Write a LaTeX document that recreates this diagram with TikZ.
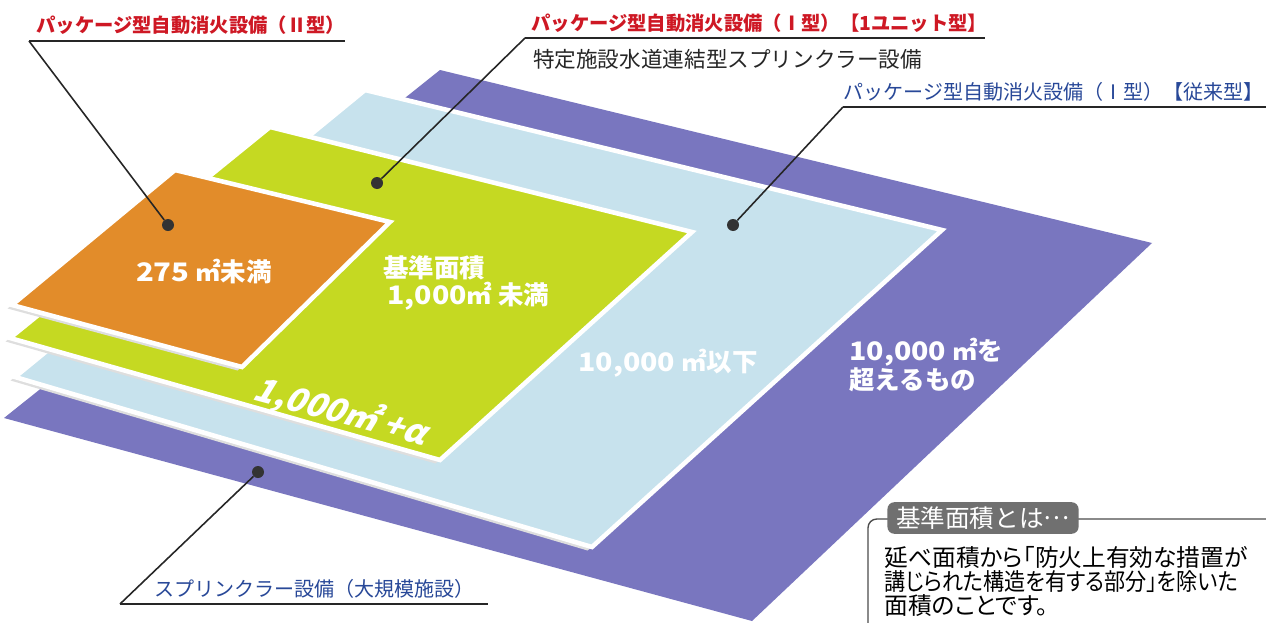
\documentclass[tikz,border=0pt]{standalone}
\usepackage{fontspec}
\setmainfont{Noto Sans CJK JP}
\newfontfamily\jpprop{Noto Sans CJK JP}[RawFeature=+palt]
\usetikzlibrary{positioning}
\definecolor{lblred}{RGB}{206,24,36}
\definecolor{lblblue}{RGB}{40,72,152}
\definecolor{lyrpurple}{RGB}{121,118,191}
\definecolor{lyrblue}{RGB}{199,226,237}
\definecolor{lyrgreen}{RGB}{197,217,34}
\definecolor{lyrorange}{RGB}{226,140,42}
\definecolor{taggray}{RGB}{112,112,112}

\begin{document}
\begin{tikzpicture}[x=0.02cm,y=-0.02cm,
  layer/.style={draw=white,line width=2.6pt,line join=miter},
  shade/.style={fill=black!13,xshift=-2.5pt,yshift=-2pt},
  dot/.style={circle,fill=black!80,inner sep=0pt,minimum size=0.24cm},
  leader/.style={line width=0.9pt,black!85},
  uline/.style={line width=1pt,black!85},
  ontext/.style={text=white,font=\bfseries\fontsize{14.5}{17}\selectfont,align=left,inner sep=0pt},
  redlbl/.style={text=lblred,font=\bfseries\fontsize{11}{13}\selectfont,inner sep=0pt},
  bluelbl/.style={text=lblblue,font=\fontsize{11.4}{13}\selectfont,inner sep=0pt}]
\useasboundingbox (0,0) rectangle (1266,622);
\clip (0,0) rectangle (1266,622);
\fill[white] (0,0) rectangle (1266,622);

% layers, largest first
\fill[lyrpurple] (440,70) -- (1152,243) -- (752,621) -- (4,418) -- cycle;
\fill[shade] (365,90) -- (942,230) -- (592,547) -- (15,377) -- cycle;
\filldraw[layer,fill=lyrblue] (365,90) -- (942,230) -- (592,547) -- (15,377) -- cycle;
\fill[shade] (270,127) -- (692,232) -- (440,460) -- (10,338) -- cycle;
\filldraw[layer,fill=lyrgreen] (270,127) -- (692,232) -- (440,460) -- (10,338) -- cycle;
\fill[shade] (175,170) -- (390,222) -- (242,367) -- (12,305) -- cycle;
\filldraw[layer,fill=lyrorange] (175,170) -- (390,222) -- (242,367) -- (12,305) -- cycle;

% texts on the layers
\node[ontext] (a275) at (204,272) {\scalebox{1.15}[1]{275} ㎡未満};
\node[ontext,anchor=west] (kijun) at (383,268) {基準面積};
\node[ontext,anchor=west] (k1000) at (387,296) {\scalebox{1.12}[1]{1,000}㎡ 未満};
\node[ontext,rotate=-15,xslant=0.3,font=\bfseries\fontsize{19}{21}\selectfont] (kplus) at (343,413) {1,000㎡ +α};
\node[ontext] (a10000) at (668,363) {\scalebox{1.12}[1]{10,000} ㎡以下};
\node[ontext,anchor=west] (over) at (849,365) {\scalebox{1.12}[1]{10,000} ㎡を\\超えるもの};

% dots
\node[dot] (dotII) at (168,225) {};
\node[dot] (dotunit) at (377,183) {};
\node[dot] (dotconv) at (733,225) {};
\node[dot] (dotsp) at (258,472) {};

% labels with underlines and leaders
\node[redlbl,anchor=west] (lblII) at (36,25) {パッケージ型自動消火設備（Ⅱ型）};
\coordinate (u1a) at (29,41); \coordinate (u1b) at (345,41);
\draw[uline] (u1a) -- (u1b);
\draw[leader] (dotII) -- (u1a);

\node[redlbl,anchor=west] (lblunit) at (531,23) {パッケージ型自動消火設備（Ⅰ型）【1ユニット型】};
\node[font=\fontsize{12.3}{14}\selectfont,text=black!85,inner sep=0pt,below right=9pt and 1pt of lblunit.south west] (lblsub) {特定施設水道連結型スプリンクラー設備};
\coordinate (u2a) at (525,38); \coordinate (u2b) at (985,38);
\draw[uline] (u2a) -- (u2b);
\draw[leader] (dotunit) -- (u2a);

\node[bluelbl,anchor=east] (lblconv) at (1264,92) {パッケージ型自動消火設備（Ⅰ型）【従来型】};
\coordinate (u3a) at (843,107); \coordinate (u3b) at (1266,107);
\draw[uline] (u3a) -- (u3b);
\draw[leader] (dotconv) -- (u3a);

\node[bluelbl,anchor=west] (lblsp) at (154,589) {スプリンクラー設備（大規模施設）};
\coordinate (u4a) at (120,604); \coordinate (u4b) at (488,604);
\draw[uline] (u4a) -- (u4b);
\draw[leader] (dotsp) -- (u4a);

% note box
\draw[line width=0.8pt,black!70,rounded corners=5pt] (1270,519) -- (868,519) -- (868,640);
\node[fill=taggray,text=white,rounded corners=4pt,inner xsep=5pt,inner ysep=2.5pt,font=\fontsize{14}{15}\selectfont] (tagk) at (983,518) {基準面積とは\raisebox{0.3em}{…}};
\node[anchor=north west,align=left,inner sep=0pt,font=\jpprop\fontsize{13.5}{13.7}\selectfont] (kdesc) at (884,546) {延べ面積から「防火上有効な措置が\\\scalebox{0.89}[1]{講じられた構造を有する部分」を除いた}\\面積のことです。};
\end{tikzpicture}
\end{document}
